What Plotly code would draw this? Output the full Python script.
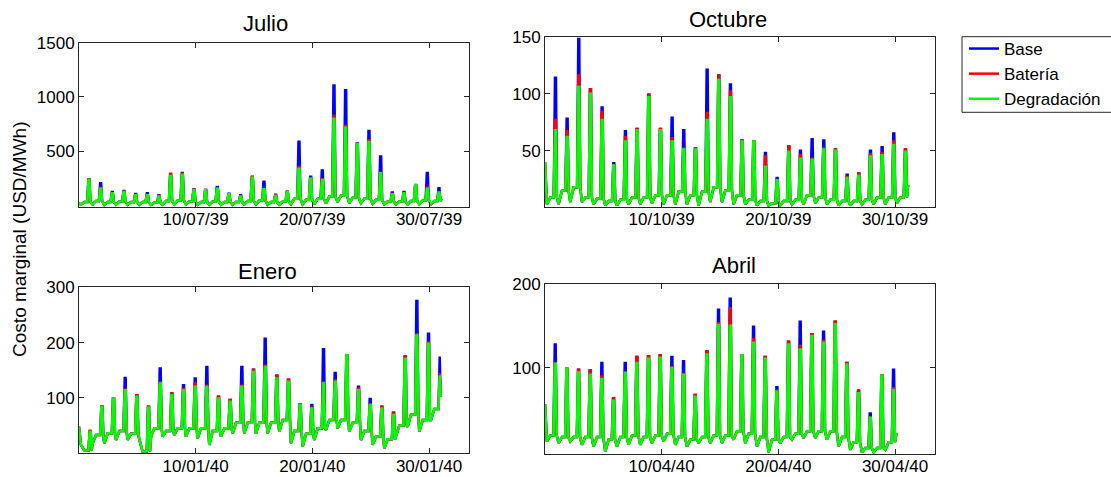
import plotly.graph_objects as go
from datetime import datetime, timedelta

FONT = "Liberation Sans, Arial, sans-serif"
SERIES = ["Base", "Batería", "Degradación"]
COLORS = ["#0000FF", "#FF0000", "#00FF00"]
TITLES = ["Julio", "Octubre", "Enero", "Abril"]
Y_LABEL = "Costo marginal (USD/MWh)"

# ---------------- Julio 2039 (daily low, daytime level, evening peak per series)
jul_first, jul_last = 20, 60
jul_low = [5, 8, 5, 5, 5, 5, 5, 5, 8, 8, 5, 5, 5, 5, 8, 8, 5, 5, 10, 10, 10, 20, 30, 20, 20, 15, 10, 8, 8, 10, 10]
jul_mid = [30, 40, 30, 35, 30, 30, 25, 40, 45, 35, 30, 35, 30, 30, 40, 45, 30, 35, 60, 50, 60, 80, 90, 70, 60, 50, 35, 35, 40, 45, 40]
jul_base = [240, 203, 123, 132, 104, 110, 92, 276, 298, 147, 141, 169, 107, 92, 264, 218, 98, 126, 586, 264, 322, 1105, 1062, 571, 685, 450, 117, 123, 187, 298, 157]
jul_bat = [240, 160, 112, 125, 95, 95, 85, 292, 290, 143, 140, 158, 103, 85, 258, 150, 90, 125, 353, 250, 240, 823, 731, 565, 599, 300, 105, 112, 185, 163, 120]
jul_deg = [235, 153, 110, 123, 92, 92, 80, 270, 282, 141, 138, 153, 101, 80, 255, 147, 86, 123, 338, 245, 233, 798, 715, 562, 583, 295, 101, 110, 184, 153, 117]
jul_ticks = ["10/07/39", "20/07/39", "30/07/39"]
jul_yticks = [500, 1000, 1500]

# ---------------- Octubre 2039
oct_first, oct_last = 40, 20
oct_low = [3, 3, 5, 5, 3, 2, 2, 3, 3, 4, 3, 3, 3, 2, 5, 5, 3, 3, 2, 2, 2, 3, 3, 4, 3, 2, 2, 3, 3, 3, 4]
oct_mid = [9, 15, 18, 9, 8, 6, 7, 9, 9, 11, 11, 14, 11, 14, 18, 15, 11, 7, 6, 4, 6, 7, 11, 9, 7, 6, 6, 7, 9, 9, 9]
oct_base = [114, 78, 148, 104, 88, 39, 67, 69, 99, 69, 79, 68, 52, 121, 116, 108, 59, 58, 48, 26, 54, 50, 60, 59, 51, 29, 30, 50, 53, 65, 51]
oct_bat = [77, 67, 116, 104, 84, 37, 62, 69, 99, 69, 61, 52, 52, 83, 116, 102, 59, 58, 45, 24, 54, 46, 43, 52, 51, 27, 30, 47, 48, 58, 51]
oct_deg = [68, 62, 106, 100, 77, 37, 58, 68, 97, 68, 58, 51, 51, 77, 112, 97, 58, 58, 36, 24, 49, 43, 42, 51, 50, 26, 28, 45, 46, 55, 49]
oct_ticks = ["10/10/39", "20/10/39", "30/10/39"]
oct_yticks = [50, 100, 150]

# ---------------- Enero 2040
ene_first, ene_last = 48, 102
ene_low = [15, 18, 18, 24, 24, 25, 30, 30, 33, 30, 27, 15, 30, 36, 36, 36, 36, 39, 18, 12, 24, 42, 45, 39, 24, 15, 9, 30, 48, 39, 60]
ene_mid = [5, 33, 36, 40, 35, 3, 45, 40, 45, 45, 45, 40, 45, 55, 55, 55, 55, 60, 40, 35, 45, 60, 60, 55, 40, 30, 25, 50, 70, 60, 80]
ene_base = [40, 85, 99, 136, 105, 84, 153, 108, 123, 135, 156, 102, 96, 156, 151, 207, 140, 133, 88, 87, 188, 145, 177, 120, 98, 84, 73, 175, 275, 216, 175]
ene_bat = [40, 84, 99, 115, 105, 84, 128, 108, 116, 126, 122, 102, 96, 122, 151, 158, 140, 133, 88, 82, 128, 132, 177, 117, 88, 84, 73, 175, 215, 200, 145]
ene_deg = [39, 84, 99, 114, 102, 82, 126, 105, 114, 120, 120, 99, 93, 120, 147, 156, 135, 129, 87, 81, 126, 129, 177, 114, 87, 81, 69, 171, 213, 198, 141]
ene_ticks = ["10/01/40", "20/01/40", "30/01/40"]
ene_yticks = [100, 200, 300]

# ---------------- Abril 2040
abr_first, abr_last = 57, 23
abr_low = [13, 11, 13, 9, 7, 1, 7, 9, 9, 11, 13, 9, 7, 11, 11, 11, 15, 11, 7, 0, 11, 15, 17, 17, 15, 7, 3, 0, 0, 3]
abr_mid = [20, 18, 18, 18, 18, 15, 18, 20, 18, 20, 22, 18, 15, 18, 20, 20, 25, 22, 18, 15, 18, 22, 25, 25, 25, 18, 12, 5, 5, 12]
abr_base = [128, 99, 98, 97, 106, 64, 106, 113, 114, 115, 113, 108, 68, 120, 169, 182, 115, 149, 113, 77, 131, 155, 140, 143, 155, 106, 73, 46, 91, 98]
abr_bat = [106, 99, 98, 97, 90, 64, 95, 113, 114, 115, 101, 93, 68, 120, 153, 171, 115, 134, 113, 73, 131, 126, 140, 132, 155, 106, 73, 41, 91, 76]
abr_deg = [105, 99, 95, 92, 87, 61, 94, 106, 111, 112, 100, 92, 66, 116, 151, 150, 115, 130, 111, 72, 128, 122, 138, 130, 152, 104, 70, 41, 91, 74]
abr_ticks = ["10/04/40", "20/04/40", "30/04/40"]
abr_yticks = [100, 200]

W, H = 1111, 477

panels = [
    dict(start=datetime(2039, 6, 30), first=jul_first, last=jul_last, low=jul_low, mid=jul_mid,
         peaks=[jul_base, jul_bat, jul_deg], pk=20.5, end_h=746, ticks=jul_ticks, yticks=jul_yticks,
         yr=[-13, 1500], box=(79, 468.7, 42.7, 206.7), tx=265, ty=24),
    dict(start=datetime(2039, 9, 30), first=oct_first, last=oct_last, low=oct_low, mid=oct_mid,
         peaks=[oct_base, oct_bat, oct_deg], pk=21.5, end_h=747, ticks=oct_ticks, yticks=oct_yticks,
         yr=[0.9, 150], box=(545, 934.7, 36.7, 206.7), tx=728, ty=20),
    dict(start=datetime(2039, 12, 31), first=ene_first, last=ene_last, low=ene_low, mid=ene_mid,
         peaks=[ene_base, ene_bat, ene_deg], pk=23.0, end_h=744, ticks=ene_ticks, yticks=ene_yticks,
         yr=[0, 300], box=(79, 468.7, 287.3, 453.2), tx=267, ty=271),
    dict(start=datetime(2040, 3, 31), first=abr_first, last=abr_last, low=abr_low, mid=abr_mid,
         peaks=[abr_base, abr_bat, abr_deg], pk=21.0, end_h=723, ticks=abr_ticks, yticks=abr_yticks,
         yr=[-1.7, 200], box=(545, 934.7, 283.7, 453.7), tx=734, ty=265),
]

PX_PER_DAY = 11.667


def build(p, peak):
    hours = [0.0]
    vals = [p["first"]]
    pk = p["pk"]
    for k in range(len(p["low"])):
        pts = ((4, p["low"][k]), (11, p["mid"][k]), (pk - 3.5, p["mid"][k]),
               (pk - 1, peak[k]), (pk + 1, peak[k]), (pk + 3, p["mid"][k]))
        for h, v in pts:
            t = 24 * k + h
            if t < p["end_h"]:
                hours.append(t)
                vals.append(v)
    hours.append(p["end_h"])
    vals.append(p["last"])
    return [p["start"] + timedelta(hours=h) for h in hours], vals


fig = go.Figure()
axis_style = dict(showline=True, linecolor="#262626", linewidth=1, mirror="ticks",
                  ticks="inside", ticklen=5, tickcolor="#262626", showgrid=False,
                  zeroline=False, tickfont=dict(size=17, color="black", family=FONT))

annotations = []
for i, p in enumerate(panels):
    suf = "" if i == 0 else str(i + 1)
    for s in range(3):
        xs, ys = build(p, p["peaks"][s])
        fig.add_trace(go.Scatter(x=xs, y=ys, mode="lines", name=SERIES[s],
                                 line=dict(color=COLORS[s], width=2.5),
                                 showlegend=(i == 0), xaxis="x" + suf, yaxis="y" + suf,
                                 hoverinfo="skip"))
    x0, x1, y0, y1 = p["box"]
    days = (x1 - x0) / PX_PER_DAY
    tickvals = [datetime.strptime(t, "%d/%m/%y") for t in p["ticks"]]
    fig.layout["xaxis" + suf] = dict(axis_style, domain=[x0 / W, x1 / W], anchor="y" + suf,
                                     type="date", range=[p["start"], p["start"] + timedelta(days=days)],
                                     tickvals=tickvals, ticktext=p["ticks"], ticklabelstandoff=-3)
    fig.layout["yaxis" + suf] = dict(axis_style, domain=[1 - y1 / H, 1 - y0 / H], anchor="x" + suf,
                                     range=p["yr"], tickvals=p["yticks"],
                                     ticktext=[str(v) for v in p["yticks"]])
    annotations.append(dict(text=TITLES[i], x=p["tx"] / W, y=1 - p["ty"] / H, xref="paper",
                            yref="paper", showarrow=False, xanchor="center", yanchor="middle",
                            font=dict(size=22, color="black", family=FONT)))

annotations.append(dict(text=Y_LABEL, x=20 / W, y=0.497, xref="paper", yref="paper",
                        showarrow=False, textangle=-90, xanchor="center", yanchor="middle",
                        font=dict(size=19, color="black", family=FONT)))

fig.update_layout(
    width=W, height=H, autosize=False,
    margin=dict(l=0, r=0, t=0, b=0, autoexpand=False),
    paper_bgcolor="white", plot_bgcolor="white",
    annotations=annotations,
    shapes=[dict(type="rect", xref="paper", yref="paper", x0=962 / W, x1=1.01,
                 y0=1 - 112.3 / H, y1=1 - 36.7 / H, line=dict(color="#262626", width=1),
                 fillcolor="rgba(0,0,0,0)")],
    legend=dict(x=964 / W, y=1 - 31 / H, xanchor="left", yanchor="top",
                borderwidth=0, bgcolor="rgba(0,0,0,0)",
                font=dict(size=17, color="black", family=FONT), tracegroupgap=0),
)

fig.write_html("out.html")
